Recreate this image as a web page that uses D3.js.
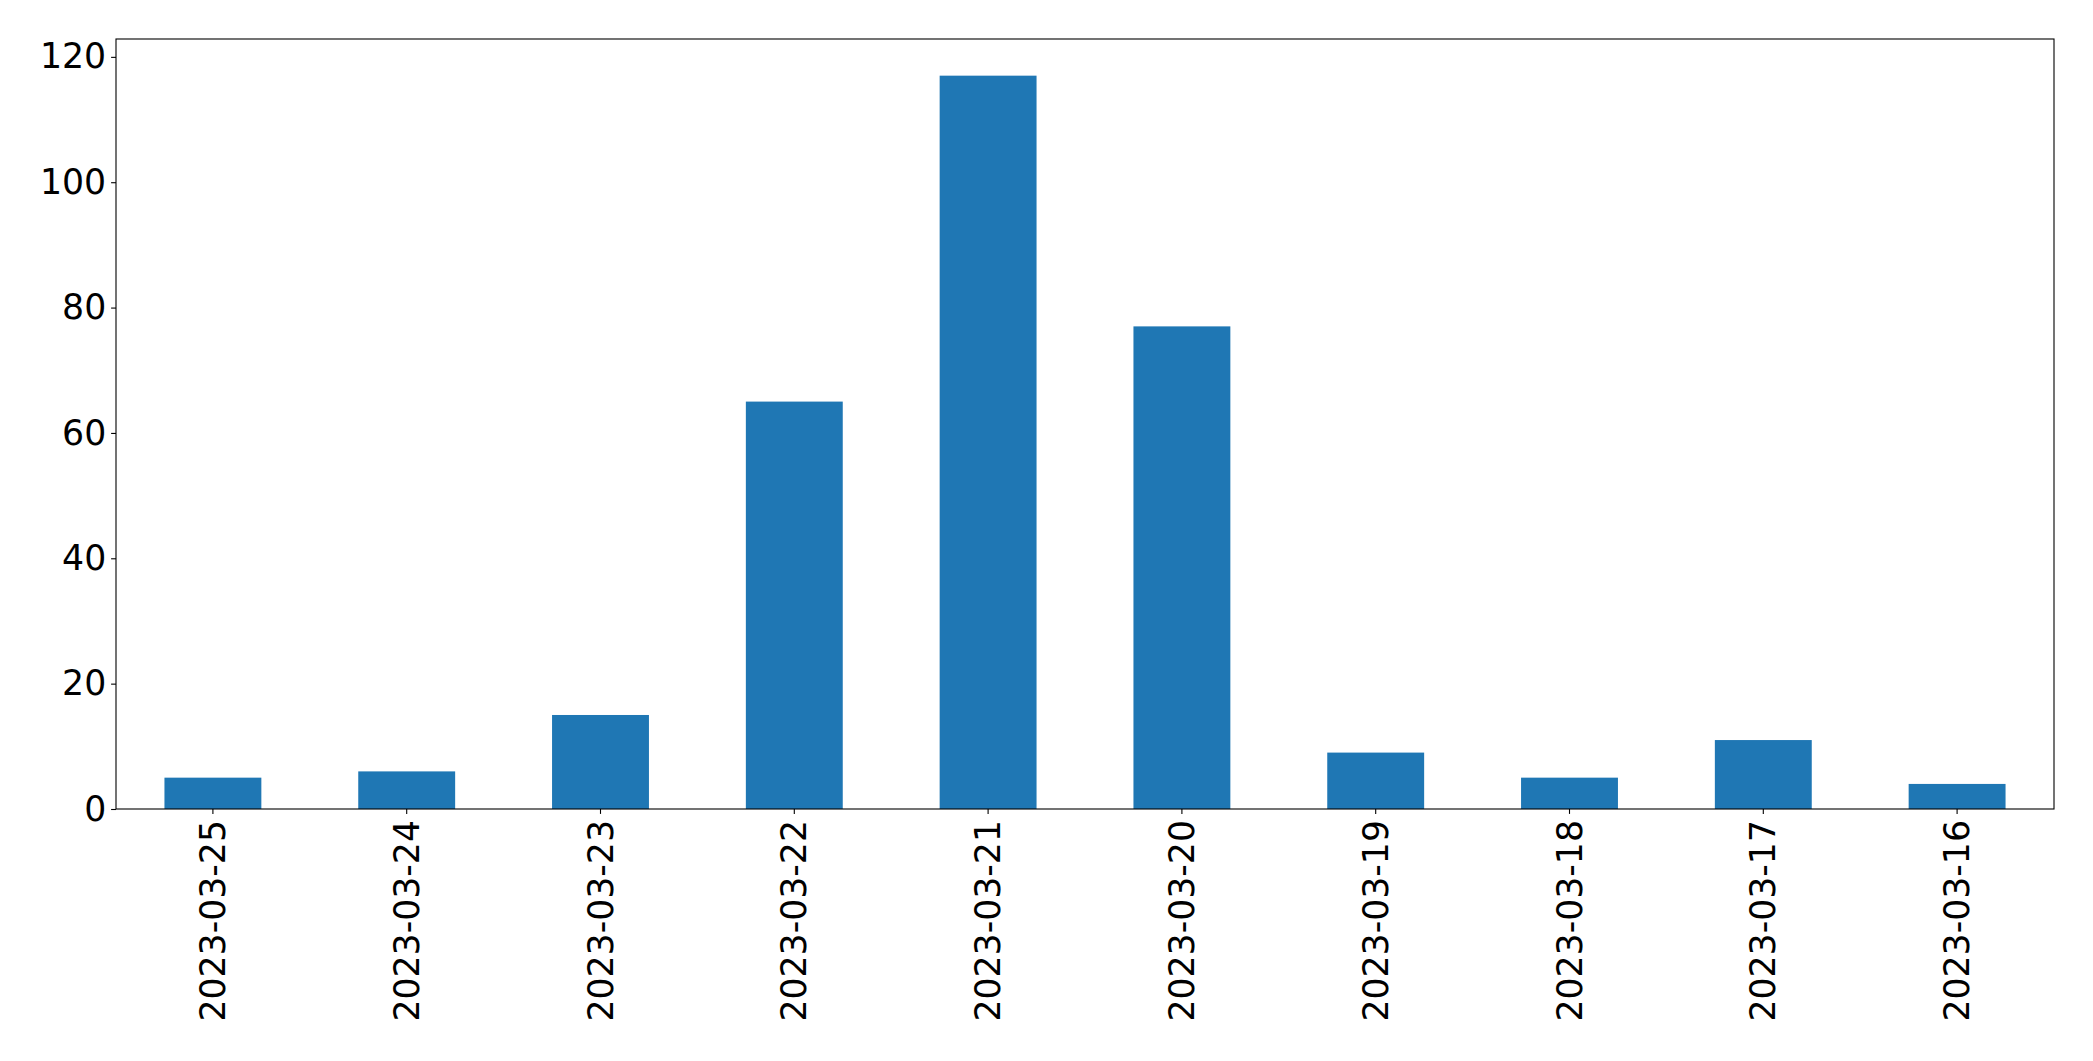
<!DOCTYPE html>
<html>
<head>
<meta charset="utf-8">
<script src="https://cdn.jsdelivr.net/npm/d3@7"></script>
<style>
  html, body { margin: 0; padding: 0; background: #fff; }
  svg { display: block; }
  text { font-family: "DejaVu Sans", sans-serif; }
</style>
</head>
<body>
<svg id="chart" width="2093" height="1061"></svg>
<script>
const categories = ["2023-03-25","2023-03-24","2023-03-23","2023-03-22","2023-03-21","2023-03-20","2023-03-19","2023-03-18","2023-03-17","2023-03-16"];
const values = [5, 6, 15, 65, 117, 77, 9, 5, 11, 4];
const yTicks = [0, 20, 40, 60, 80, 100, 120];

const W = 2093, H = 1061;
const margin = { left: 116, right: W - 2054, top: 39, bottom: H - 809 };
const iw = W - margin.left - margin.right;
const ih = H - margin.top - margin.bottom;
const fontSize = "34.7px";

const svg = d3.select("#chart");
const g = svg.append("g").attr("transform", `translate(${margin.left},${margin.top})`);

const x = d3.scaleBand().domain(categories).range([0, iw]).paddingInner(0.5).paddingOuter(0.25);
const y = d3.scaleLinear().domain([0, d3.max(values) * 1.05]).range([ih, 0]);

g.selectAll("rect.bar").data(categories).join("rect")
  .attr("class", "bar")
  .attr("x", d => x(d))
  .attr("width", x.bandwidth())
  .attr("y", (d, i) => y(values[i]))
  .attr("height", (d, i) => ih - y(values[i]))
  .attr("fill", "#1f77b4");

const yAxis = g.append("g")
  .call(d3.axisLeft(y).tickValues(yTicks).tickSize(4.9).tickPadding(4.9).tickFormat(d3.format("d")));
yAxis.select(".domain").remove();
yAxis.selectAll("line").attr("stroke", "#000").attr("stroke-width", 1.1);
yAxis.selectAll("text").attr("font-size", fontSize).attr("fill", "#000").attr("font-family", "DejaVu Sans");

const xAxis = g.append("g").attr("transform", `translate(0,${ih})`)
  .call(d3.axisBottom(x).tickSize(4.9).tickPadding(4.9));
xAxis.select(".domain").remove();
xAxis.selectAll("line").attr("stroke", "#000").attr("stroke-width", 1.1);
xAxis.selectAll("text")
  .attr("font-size", fontSize).attr("fill", "#000").attr("font-family", "DejaVu Sans")
  .attr("transform", "rotate(-90)")
  .attr("text-anchor", "end")
  .attr("x", -11)
  .attr("y", 0)
  .attr("dy", "0.35em");

g.append("rect")
  .attr("x", 0).attr("y", 0).attr("width", iw).attr("height", ih)
  .attr("fill", "none").attr("stroke", "#000").attr("stroke-width", 1.1);
</script>
</body>
</html>
